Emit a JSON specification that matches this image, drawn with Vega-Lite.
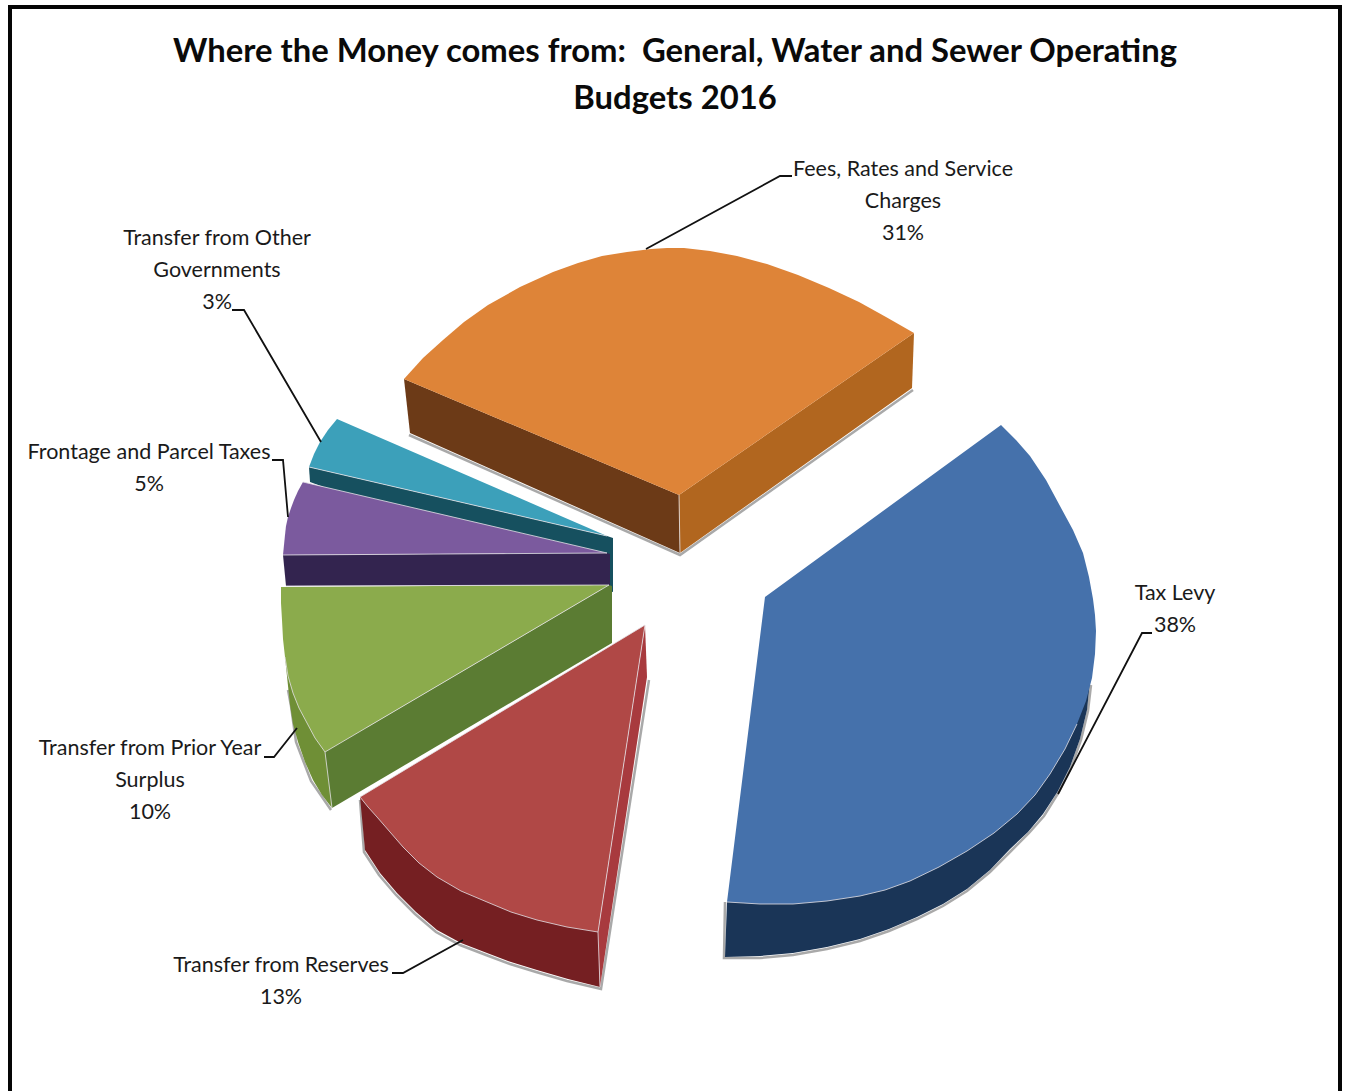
{
  "$schema": "https://vega.github.io/schema/vega-lite/v6.json",
  "width": 1346,
  "height": 1091,
  "padding": 0,
  "autosize": "none",
  "background": "white",
  "view": {"stroke": null},
  "title": {
    "text": ["Where the Money comes from:\u00a0 General, Water and Sewer Operating", "Budgets 2016"],
    "anchor": "middle",
    "frame": "group",
    "offset": -116,
    "dx": 2,
    "font": "Lato",
    "fontSize": 32.8,
    "fontWeight": "bold",
    "color": "#0a0a0a",
    "lineHeight": 47
  },
  "projection": {"type": "identity", "scale": 1, "translate": [0, 0]},
  "datasets": {
    "shadows": [
      {"type": "Feature", "properties": {"part": "blue"}, "geometry": {"type": "LineString", "coordinates": [[725,902],[724,958],[760,958],[793,955],[827,949],[860,941],[889,931],[917,919],[943,906],[967,891],[990,872],[1011,851],[1029,833],[1044,816],[1059,792],[1071,768],[1081,740],[1088,711],[1091,685]]}},
      {"type": "Feature", "properties": {"part": "red"}, "geometry": {"type": "LineString", "coordinates": [[360,800],[364,852],[379,875],[396,895],[415,914],[436,932],[460,945],[486,955],[510,964],[536,972],[567,981],[601,989],[649,680]]}},
      {"type": "Feature", "properties": {"part": "orange"}, "geometry": {"type": "LineString", "coordinates": [[409,435],[680,555],[913,390]]}},
      {"type": "Feature", "properties": {"part": "green"}, "geometry": {"type": "LineString", "coordinates": [[288,690],[291,706],[296,742],[311,781],[331,810]]}}
    ],
    "faces": [
      {"type": "Feature", "properties": {"part": "Transfer from Other Governments side"}, "geometry": {"type": "Polygon", "coordinates": [[[309,467],[607,536],[613,538],[613,592],[605,590],[310,482],[309,467]]]}},
      {"type": "Feature", "properties": {"part": "Transfer from Other Governments top"}, "geometry": {"type": "Polygon", "coordinates": [[[337,419],[328,430],[320,442],[314,454],[309,467],[607,536],[337,419]]]}},
      {"type": "Feature", "properties": {"part": "Frontage and Parcel Taxes side"}, "geometry": {"type": "Polygon", "coordinates": [[[283,555],[607,553],[610,554],[610,585],[286,586],[283,555]]]}},
      {"type": "Feature", "properties": {"part": "Frontage and Parcel Taxes top"}, "geometry": {"type": "Polygon", "coordinates": [[[303,482],[298,491],[294,500],[291,508],[288,517],[286,526],[285,535],[284,545],[283,555],[607,553],[303,482]]]}},
      {"type": "Feature", "properties": {"part": "Transfer from Prior Year Surplus rim"}, "geometry": {"type": "Polygon", "coordinates": [[[285,657],[290,705],[293,724],[298,742],[305,762],[313,780],[322,795],[332,808],[400,650],[285,657]]]}},
      {"type": "Feature", "properties": {"part": "Transfer from Prior Year Surplus side"}, "geometry": {"type": "Polygon", "coordinates": [[[325,752],[609,585],[612,586],[612,643],[332,808],[325,752]]]}},
      {"type": "Feature", "properties": {"part": "Transfer from Prior Year Surplus top"}, "geometry": {"type": "Polygon", "coordinates": [[[281,587],[281,603],[282,620],[283,639],[285,657],[288,676],[293,693],[299,708],[307,723],[315,738],[325,752],[609,585],[281,587]]]}},
      {"type": "Feature", "properties": {"part": "Transfer from Reserves rim"}, "geometry": {"type": "Polygon", "coordinates": [[[360,797],[365,850],[380,873],[397,893],[416,912],[437,930],[461,943],[487,953],[511,962],[537,970],[568,979],[600,987],[598,900],[360,797]]]}},
      {"type": "Feature", "properties": {"part": "Transfer from Reserves side"}, "geometry": {"type": "Polygon", "coordinates": [[[645,625],[598,932],[600,987],[647,677],[645,625]]]}},
      {"type": "Feature", "properties": {"part": "Transfer from Reserves top"}, "geometry": {"type": "Polygon", "coordinates": [[[645,625],[360,797],[368,807],[377,817],[390,832],[403,847],[419,863],[437,877],[461,891],[487,902],[511,912],[537,920],[567,927],[598,932],[645,625]]]}},
      {"type": "Feature", "properties": {"part": "Fees, Rates and Service Charges left"}, "geometry": {"type": "Polygon", "coordinates": [[[404,379],[679,495],[680,553],[410,433],[404,379]]]}},
      {"type": "Feature", "properties": {"part": "Fees, Rates and Service Charges right"}, "geometry": {"type": "Polygon", "coordinates": [[[679,495],[914,333],[912,388],[680,553],[679,495]]]}},
      {"type": "Feature", "properties": {"part": "Fees, Rates and Service Charges top"}, "geometry": {"type": "Polygon", "coordinates": [[[404,379],[423,358],[443,340],[464,322],[488,305],[520,287],[553,272],[578,263],[602,256],[627,252],[651,249],[667,248],[684,248],[710,251],[737,256],[767,264],[798,275],[829,288],[859,302],[886,317],[914,333],[679,495],[404,379]]]}},
      {"type": "Feature", "properties": {"part": "Tax Levy rim"}, "geometry": {"type": "Polygon", "coordinates": [[[1090,681],[1087,710],[1080,739],[1070,767],[1058,791],[1043,814],[1028,832],[1010,849],[990,870],[967,889],[943,904],[917,917],[889,929],[860,939],[827,947],[793,953],[760,956],[725,957],[727,902],[1000,700],[1090,681]]]}},
      {"type": "Feature", "properties": {"part": "Tax Levy top"}, "geometry": {"type": "Polygon", "coordinates": [[[1001,425],[1016,440],[1030,456],[1046,480],[1060,506],[1073,530],[1083,553],[1089,577],[1093,599],[1095,615],[1096,631],[1095,654],[1092,678],[1086,701],[1077,724],[1065,749],[1050,774],[1035,795],[1017,814],[994,833],[967,851],[939,867],[910,881],[885,890],[860,896],[827,901],[793,904],[760,904],[727,902],[765,597],[1001,425]]]}}
    ],
    "edges": [
      {"type": "Feature", "properties": {"edge": "teal"}, "geometry": {"type": "LineString", "coordinates": [[309,467],[607,536]]}},
      {"type": "Feature", "properties": {"edge": "purple"}, "geometry": {"type": "LineString", "coordinates": [[303,482],[607,553],[283,555]]}},
      {"type": "Feature", "properties": {"edge": "purple base"}, "geometry": {"type": "LineString", "coordinates": [[286,586],[609,585]]}},
      {"type": "Feature", "properties": {"edge": "green"}, "geometry": {"type": "LineString", "coordinates": [[285,657],[288,676],[293,693],[299,708],[307,723],[315,738],[325,752],[609,585]]}},
      {"type": "Feature", "properties": {"edge": "green corner"}, "geometry": {"type": "LineString", "coordinates": [[325,752],[332,808]]}},
      {"type": "Feature", "properties": {"edge": "red"}, "geometry": {"type": "LineString", "coordinates": [[360,797],[368,807],[377,817],[390,832],[403,847],[419,863],[437,877],[461,891],[487,902],[511,912],[537,920],[567,927],[598,932],[645,625]]}},
      {"type": "Feature", "properties": {"edge": "red corner"}, "geometry": {"type": "LineString", "coordinates": [[598,932],[600,987]]}},
      {"type": "Feature", "properties": {"edge": "red base"}, "geometry": {"type": "LineString", "coordinates": [[360,797],[645,625]]}},
      {"type": "Feature", "properties": {"edge": "orange corner"}, "geometry": {"type": "LineString", "coordinates": [[679,495],[680,553]]}},
      {"type": "Feature", "properties": {"edge": "blue"}, "geometry": {"type": "LineString", "coordinates": [[1077,724],[1065,749],[1050,774],[1035,795],[1017,814],[994,833],[967,851],[939,867],[910,881],[885,890],[860,896],[827,901],[793,904],[760,904],[727,902]]}}
    ],
    "rules": [
      {"type": "Feature", "properties": {"kind": "frame"}, "geometry": {"type": "LineString", "coordinates": [[10,1100],[10,7],[1340,7],[1340,1100]]}},
      {"type": "Feature", "properties": {"kind": "Fees, Rates and Service Charges"}, "geometry": {"type": "LineString", "coordinates": [[646,249],[780,176],[792,176]]}},
      {"type": "Feature", "properties": {"kind": "Transfer from Other Governments"}, "geometry": {"type": "LineString", "coordinates": [[321,442],[244,310],[232,310]]}},
      {"type": "Feature", "properties": {"kind": "Frontage and Parcel Taxes"}, "geometry": {"type": "LineString", "coordinates": [[288,517],[283,460],[272,460]]}},
      {"type": "Feature", "properties": {"kind": "Transfer from Prior Year Surplus"}, "geometry": {"type": "LineString", "coordinates": [[297,728],[274,757],[264,757]]}},
      {"type": "Feature", "properties": {"kind": "Transfer from Reserves"}, "geometry": {"type": "LineString", "coordinates": [[463,940],[403,973],[392,973]]}},
      {"type": "Feature", "properties": {"kind": "Tax Levy"}, "geometry": {"type": "LineString", "coordinates": [[1058,794],[1142,633],[1152,633]]}}
    ],
    "labels": [
      {"lines": "Fees, Rates and Service|Charges", "share": 31, "cx": 903, "top": 170},
      {"lines": "Tax Levy", "share": 38, "cx": 1175, "top": 594},
      {"lines": "Transfer from Reserves", "share": 13, "cx": 281, "top": 966},
      {"lines": "Transfer from Prior Year|Surplus", "share": 10, "cx": 150, "top": 749},
      {"lines": "Frontage and Parcel Taxes", "share": 5, "cx": 149, "top": 453},
      {"lines": "Transfer from Other|Governments", "share": 3, "cx": 217, "top": 239}
    ]
  },
  "layer": [
    {
      "data": {"name": "shadows"},
      "mark": {"type": "geoshape", "filled": false, "stroke": "#555555", "strokeWidth": 2.5, "opacity": 0.5},
      "encoding": {}
    },
    {
      "data": {"name": "faces"},
      "mark": {"type": "geoshape", "strokeWidth": 0},
      "encoding": {
        "color": {
          "field": "properties.part",
          "type": "nominal",
          "legend": null,
          "scale": {
            "domain": [
              "Tax Levy top", "Tax Levy rim",
              "Fees, Rates and Service Charges top", "Fees, Rates and Service Charges left", "Fees, Rates and Service Charges right",
              "Transfer from Other Governments top", "Transfer from Other Governments side",
              "Frontage and Parcel Taxes top", "Frontage and Parcel Taxes side",
              "Transfer from Prior Year Surplus top", "Transfer from Prior Year Surplus side", "Transfer from Prior Year Surplus rim",
              "Transfer from Reserves top", "Transfer from Reserves side", "Transfer from Reserves rim"
            ],
            "range": [
              "#4571ab", "#1a3557",
              "#de8438", "#6c3a17", "#b1661f",
              "#3ca0ba", "#16505f",
              "#7b5a9e", "#33244f",
              "#8bab4c", "#5b7c33", "#6f8f36",
              "#b04846", "#a83a3e", "#751f22"
            ]
          }
        }
      }
    },
    {
      "data": {"name": "edges"},
      "mark": {"type": "geoshape", "filled": false, "stroke": "#e6e3e8", "strokeWidth": 1, "opacity": 0.8},
      "encoding": {}
    },
    {
      "data": {"name": "rules"},
      "transform": [{"filter": "datum.properties.kind === 'frame'"}],
      "mark": {"type": "geoshape", "filled": false, "stroke": "#050505", "strokeWidth": 4},
      "encoding": {}
    },
    {
      "data": {"name": "rules"},
      "transform": [{"filter": "datum.properties.kind !== 'frame'"}],
      "mark": {"type": "geoshape", "filled": false, "stroke": "#111111", "strokeWidth": 1.8},
      "encoding": {}
    },
    {
      "data": {"name": "labels"},
      "transform": [{"calculate": "split(datum.lines + '|' + datum.share + '%', '|')", "as": "caption"}],
      "mark": {"type": "text", "font": "Lato", "fontSize": 21.5, "color": "#1a1a1a", "align": "center", "baseline": "middle", "lineHeight": 32},
      "encoding": {
        "longitude": {"field": "cx", "type": "quantitative"},
        "latitude": {"field": "top", "type": "quantitative"},
        "text": {"field": "caption"}
      }
    }
  ]
}
